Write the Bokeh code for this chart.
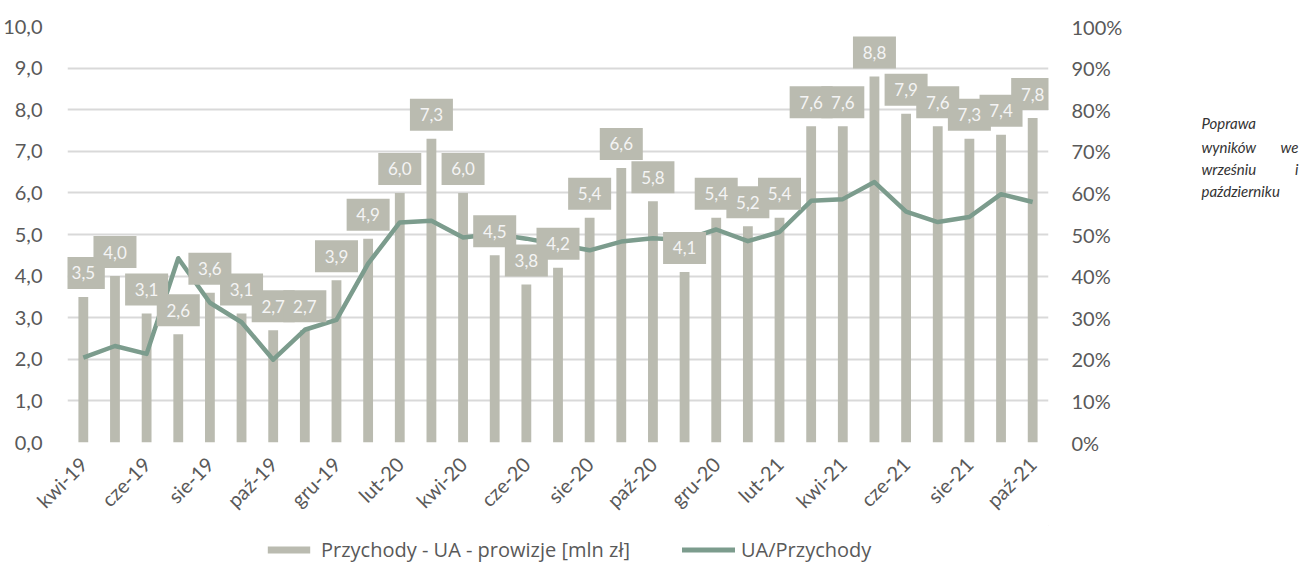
from bokeh.plotting import figure
from bokeh.layouts import row, column
from bokeh.models import (ColumnDataSource, Range1d, LinearAxis, FixedTicker,
                          Legend, LegendItem)
from bokeh.core.properties import value
from bokeh.embed import file_html
from bokeh.resources import INLINE
import math

months = ["kwi-19", "maj-19", "cze-19", "lip-19", "sie-19", "wrz-19", "paź-19",
          "lis-19", "gru-19", "sty-20", "lut-20", "mar-20", "kwi-20", "maj-20",
          "cze-20", "lip-20", "sie-20", "wrz-20", "paź-20", "lis-20", "gru-20",
          "sty-21", "lut-21", "mar-21", "kwi-21", "maj-21", "cze-21", "lip-21",
          "sie-21", "wrz-21", "paź-21"]
revenue = [3.5, 4.0, 3.1, 2.6, 3.6, 3.1, 2.7, 2.7, 3.9, 4.9, 6.0, 7.3, 6.0, 4.5,
           3.8, 4.2, 5.4, 6.6, 5.8, 4.1, 5.4, 5.2, 5.4, 7.6, 7.6, 8.8, 7.9, 7.6,
           7.3, 7.4, 7.8]
ratio_pct = [20.4, 23.2, 21.3, 44.3, 33.6, 28.9, 19.9, 27.1, 29.5, 43.0, 52.9,
             53.3, 49.3, 50.1, 49.0, 47.6, 46.2, 48.3, 49.1, 48.7, 51.2, 48.4,
             50.6, 58.1, 58.5, 62.6, 55.5, 53.0, 54.2, 59.7, 57.8]
y_ticks = [0, 1, 2, 3, 4, 5, 6, 7, 8, 9, 10]
y_tick_labels = ["0,0", "1,0", "2,0", "3,0", "4,0", "5,0", "6,0", "7,0", "8,0", "9,0", "10,0"]
pct_ticks = [0, 10, 20, 30, 40, 50, 60, 70, 80, 90, 100]
pct_tick_labels = ["0%", "10%", "20%", "30%", "40%", "50%", "60%", "70%", "80%", "90%", "100%"]
bar_name = "Przychody - UA - prowizje [mln zł]"
line_name = "UA/Przychody"
note_left = ["Poprawa", "wyników", "wrześniu", "październiku"]
note_right = ["", "we", "i", ""]

BAR = "#babbb0"
LINE = "#7c9c8d"
TXT = "#595959"
FONT = "Lato"

W_MAIN, H_MAIN = 1150, 525
W_NOTE, H_TOTAL = 1303 - W_MAIN, 563
H_STRIP = H_TOTAL - H_MAIN
FRAME_LEFT, FRAME_RIGHT, FRAME_TOP, FRAME_BOTTOM = 67, 1048, 26, 442
LABEL_LIFT = 24  # px between bar top and label-box centre
YMAX = 10

idx = list(range(len(months)))
src = ColumnDataSource(dict(
    x=idx, v=revenue, r=ratio_pct,
    lbl=[f"{v:.1f}".replace(".", ",") for v in revenue],
))

p = figure(width=W_MAIN, height=H_MAIN, output_backend="svg", toolbar_location=None,
           x_range=Range1d(-0.5, len(months) - 0.5), y_range=Range1d(0, YMAX),
           min_border_left=FRAME_LEFT, min_border_right=W_MAIN - FRAME_RIGHT,
           min_border_top=FRAME_TOP, min_border_bottom=H_MAIN - FRAME_BOTTOM,
           outline_line_color=None)
shift = LABEL_LIFT * YMAX / (FRAME_BOTTOM - FRAME_TOP)
p.extra_y_ranges = {"pct": Range1d(0, 100), "lbl": Range1d(-shift, YMAX - shift)}

p.xaxis.ticker = FixedTicker(ticks=idx[::2])
p.xaxis.major_label_overrides = {i: months[i] for i in idx[::2]}
p.xaxis.major_label_orientation = math.pi / 4
p.xaxis.major_label_standoff = 12

p.yaxis.ticker = FixedTicker(ticks=y_ticks)
p.yaxis.major_label_overrides = {t: l for t, l in zip(y_ticks, y_tick_labels)}
p.yaxis.major_label_standoff = 19

ra = LinearAxis(y_range_name="pct", ticker=FixedTicker(ticks=pct_ticks),
                major_label_overrides={t: l for t, l in zip(pct_ticks, pct_tick_labels)},
                major_label_standoff=17)
p.add_layout(ra, "right")

for ax in [p.xaxis[0], p.yaxis[0], ra]:
    ax.axis_line_color = None
    ax.major_tick_line_color = None
    ax.minor_tick_line_color = None
    ax.major_label_text_font = FONT
    ax.major_label_text_color = TXT
ra.major_label_text_font_size = "20px"
p.yaxis.major_label_text_font_size = "20px"
p.xaxis.major_label_text_font_size = "20px"

p.xgrid.grid_line_color = None
p.ygrid.ticker = FixedTicker(ticks=y_ticks)
p.ygrid.grid_line_color = "#d9d9d9"
p.ygrid.grid_line_width = 2

p.vbar(x="x", top="v", width=0.31, source=src, fill_color=BAR, line_color=None)
p.line(x="x", y="r", source=src, y_range_name="pct", line_color=LINE,
       line_width=4.5, line_join="round")

# label boxes (drawn first), then all label texts on top
p.rect(x="x", y="v", width=43, height=32, width_units="screen", height_units="screen",
       source=src, y_range_name="lbl", fill_color=BAR, line_color=None)
p.text(x="x", y="v", text="lbl", source=src, text_align="center",
       text_baseline="middle", y_offset=-LABEL_LIFT, text_font=value(FONT),
       text_font_size="17px", text_color="#f4f4f4")

# legend strip below the main chart (swatch renderers hold one point outside the view)
lg = figure(width=W_MAIN, height=H_STRIP, output_backend="svg", toolbar_location=None,
            x_range=Range1d(0, 1), y_range=Range1d(0, 1), min_border=0,
            x_axis_location=None, y_axis_location=None, outline_line_color=None)
lg.grid.visible = False
r_bar = lg.vbar(x=[5], top=[5], bottom=[4], width=0.1, fill_color=BAR, line_color=None)
r_line = lg.line(x=[5, 6], y=[5, 5], line_color=LINE, line_width=5, line_cap="round")
legend = Legend(items=[LegendItem(label=bar_name, renderers=[r_bar]),
                       LegendItem(label=line_name, renderers=[r_line])],
                orientation="horizontal", location=(262 - FRAME_LEFT, 0),
                border_line_color=None, background_fill_alpha=0,
                padding=0, margin=0, spacing=52, label_standoff=6,
                glyph_width=53, glyph_height=9, label_height=20,
                label_text_font="Open Sans", label_text_font_size="20px",
                label_text_color=TXT)
lg.add_layout(legend, "center")

# note panel at the right
nt = figure(width=W_NOTE, height=H_TOTAL, output_backend="svg", toolbar_location=None,
            x_range=Range1d(0, W_NOTE), y_range=Range1d(H_TOTAL, 0), min_border=0,
            x_axis_location=None, y_axis_location=None, outline_line_color=None)
nt.grid.visible = False
note_y = [122, 146, 168, 190]
nt.text(x=[51] * 4, y=note_y, text=note_left, text_align="left", text_baseline="middle",
        text_font=value(FONT), text_font_style="italic", text_font_size="15px",
        text_color="#333333")
nt.text(x=[148] * 4, y=note_y, text=note_right, text_align="right", text_baseline="middle",
        text_font=value(FONT), text_font_style="italic", text_font_size="15px",
        text_color="#333333")

layout = row(column(p, lg), nt)
open("out.html", "w").write(file_html(layout, INLINE))
